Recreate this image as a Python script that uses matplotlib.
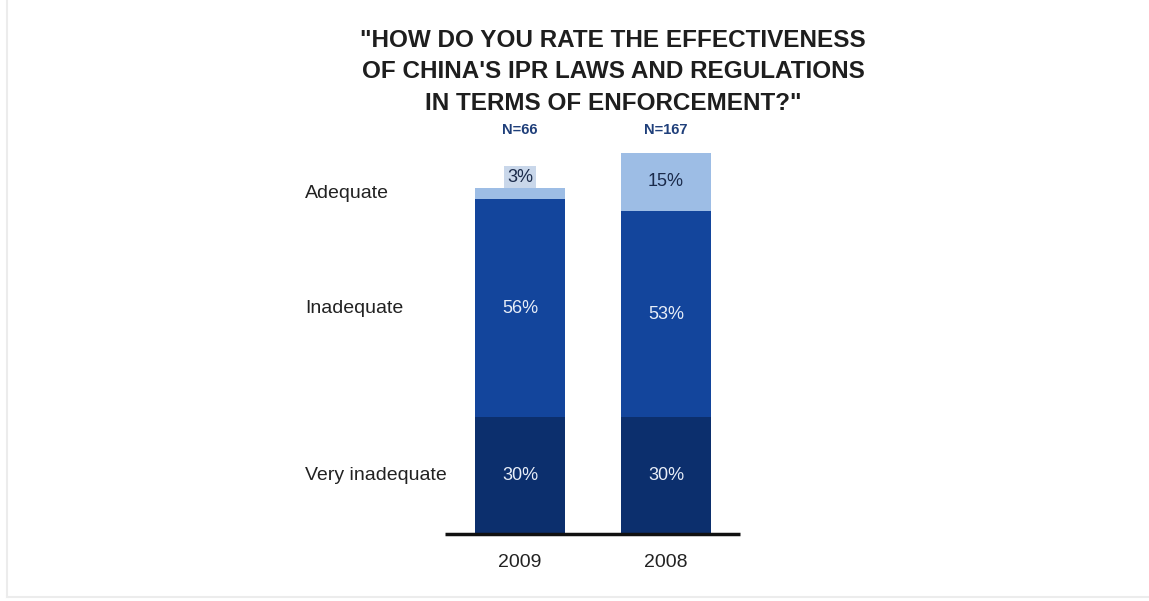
import matplotlib.pyplot as plt
from matplotlib.lines import Line2D

plt.rcParams['font.family'] = ['Liberation Sans', 'DejaVu Sans']

# data
years = ['2009', '2008']
sample_sizes = ['N=66', 'N=167']
categories = ['Very inadequate', 'Inadequate', 'Adequate']
very_inadequate = [30, 30]
inadequate = [56, 53]
adequate = [3, 15]

colors = ['#0c2f6d', '#13459c', '#9dbde5']
title = '"HOW DO YOU RATE THE EFFECTIVENESS\nOF CHINA\'S IPR LAWS AND REGULATIONS\nIN TERMS OF ENFORCEMENT?"'

W, H = 1149, 601
fig = plt.figure(figsize=(W / 100, H / 100), dpi=100)
fig.patch.set_facecolor('white')

# axes placed in pixel terms: baseline at y=534, 100% at y=145
ax = fig.add_axes([445 / W, (H - 534) / H, 295 / W, 389 / H])
ax.set_xlim(-0.514, 1.507)
ax.set_ylim(0, 100)
ax.axis('off')

x = [0, 1]
width = 0.616
series = [very_inadequate, inadequate, adequate]
bottom = [0, 0]
mids = []
for vals, c in zip(series, colors):
    ax.bar(x, vals, width, bottom=bottom, color=c, linewidth=0)
    mids.append([b + v / 2 for b, v in zip(bottom, vals)])
    bottom = [b + v for b, v in zip(bottom, vals)]

# baseline
ax.plot([-0.514, 1.507], [0, 0], color='#111111', lw=2.5, solid_capstyle='butt', clip_on=False)

# value labels
for i in range(2):
    ax.text(x[i], mids[0][i], f'{very_inadequate[i]}%', ha='center', va='center',
            color='#e8eef8', fontsize=13)
    ax.text(x[i], mids[1][i], f'{inadequate[i]}%', ha='center', va='center',
            color='#e8eef8', fontsize=13)
# adequate labels
ax.text(x[1], mids[2][1], f'{adequate[1]}%', ha='center', va='center',
        color='#1a2a4a', fontsize=13)
ax.text(x[0], bottom[0] + 2.7, f'{adequate[0]}%', ha='center', va='center',
        color='#1a2a4a', fontsize=13,
        bbox=dict(boxstyle='square,pad=0.15', fc='#c9d7ea', ec='none'))

# N labels
for i in range(2):
    ax.text(x[i], 103.9, sample_sizes[i], ha='center', va='center',
            color='#1f3f7a', fontsize=10.5, fontweight='bold', clip_on=False)

# year labels
for i in range(2):
    ax.text(x[i], -7.3, years[i], ha='center', va='center',
            color='#222222', fontsize=14, clip_on=False)

# row labels aligned with first bar segments
for name, m in zip(categories, [mids[0][0], mids[1][0], mids[2][0]]):
    ax.text(-1.473, m, name, ha='left', va='center', color='#222222',
            fontsize=14, clip_on=False)

fig.text(613 / W, 1 - 72 / H, title, ha='center', va='center', fontsize=17.5,
         fontweight='bold', color='#1e1e1e', linespacing=1.45)

# faint frame at left and bottom
fig.add_artist(Line2D([7 / W, 7 / W], [4 / H, 1], color='#ececec', lw=1.5))
fig.add_artist(Line2D([7 / W, 1], [4 / H, 4 / H], color='#ececec', lw=1.5))

fig.savefig('out.png', dpi=100, facecolor='white')
